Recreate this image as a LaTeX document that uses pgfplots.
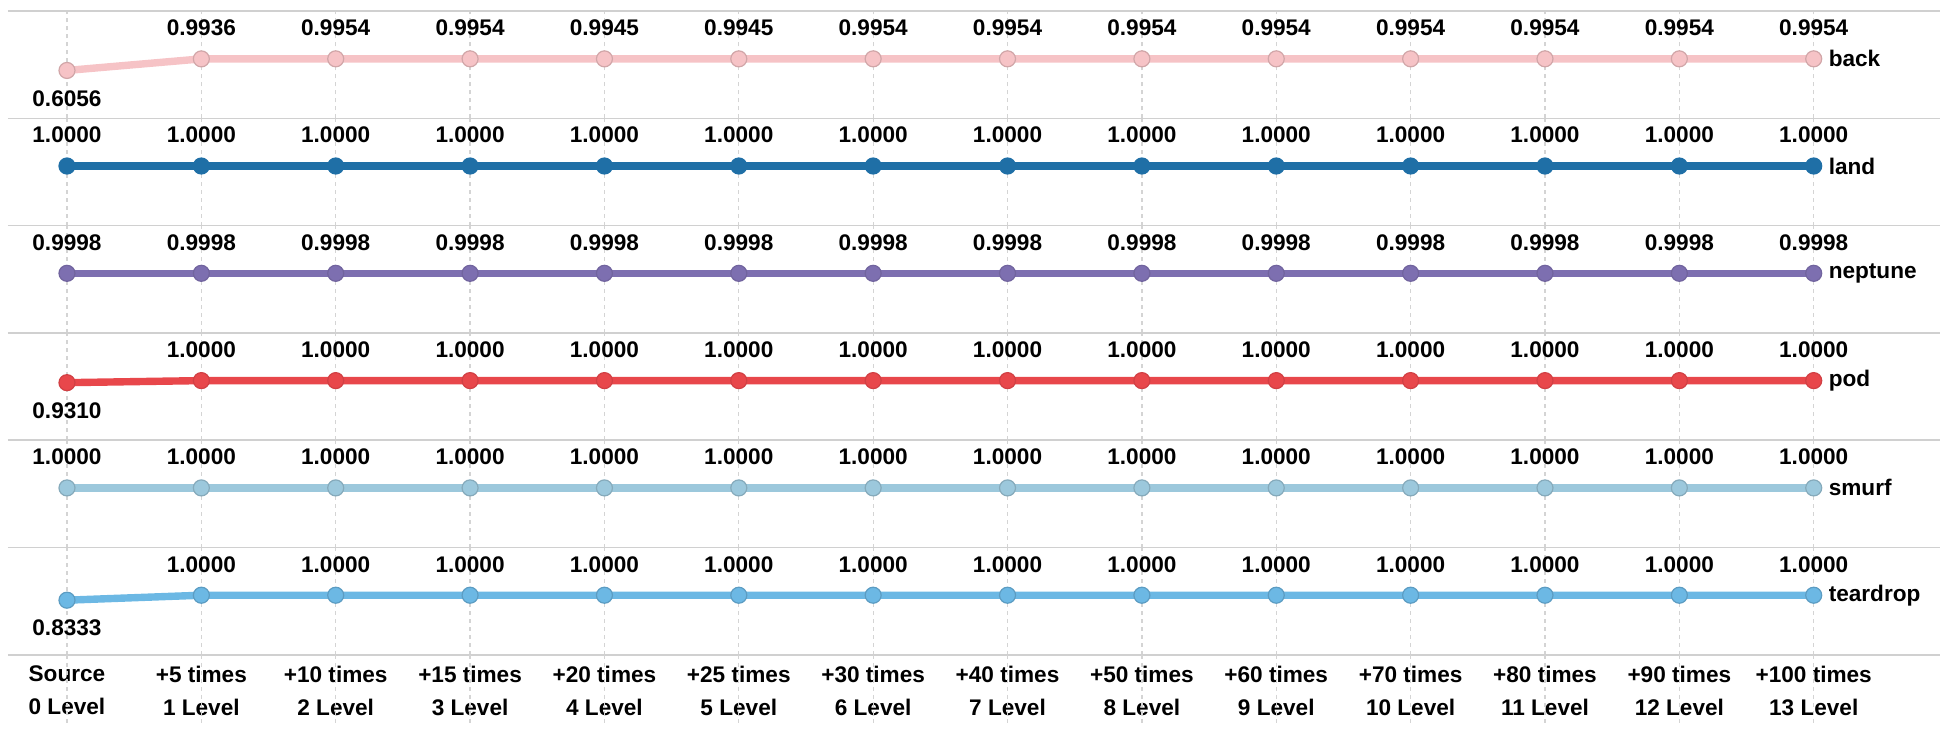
\documentclass[border=0pt]{standalone}
\usepackage{fontspec}
\setmainfont{Liberation Sans}
\usepackage{pgfplots}
\pgfplotsset{compat=1.18}
\usepgfplotslibrary{groupplots}
\definecolor{cback}{HTML}{F6C3C6}
\definecolor{cland}{HTML}{1F6FA6}
\definecolor{cnept}{HTML}{7D6FB0}
\definecolor{cpod}{HTML}{E8474B}
\definecolor{csmurf}{HTML}{9CC8DC}
\definecolor{ctear}{HTML}{6CB8E4}
\definecolor{gridc}{HTML}{D4D4D4}
\definecolor{sepc}{HTML}{D0D0D0}
\newcommand{\lblfont}{\bfseries\fontsize{11.3}{16.5}\selectfont}

\begin{document}
\begin{tikzpicture}
\begin{groupplot}[
  group style={group name=g,group size=1 by 6,vertical sep=0pt},
  scale only axis,width=966pt,height=53.65pt,
  xmin=-0.439,xmax=13.94,ymin=-1,ymax=2.6,
  axis line style={draw=none},ytick=\empty,
  xtick={0,...,13},xticklabels={},major tick length=0pt,
  xmajorgrids,grid style={gridc,line width=0.6pt,dash pattern=on 2pt off 2pt},
  clip=false,
  every axis plot/.append style={line width=3.7pt,mark=*,mark size=4pt},
  nodes near coords={\pgfmathprintnumber[fixed,fixed zerofill,precision=4,assume math mode=true]{\pgfplotspointmeta}},
  visualization depends on={value \thisrow{p}\as\lp},
  every node near coord/.append style={anchor=center,yshift=\lp*1pt,text=black,font=\lblfont},
  after end axis/.code={\draw[sepc,line width=0.8pt] (rel axis cs:0,1) -- (rel axis cs:1,1);},
]
% back
\nextgroupplot
\addplot[color=cback,mark options={fill=cback,draw=cback!85!black,line width=0.6pt}] table {
x y p
0 0.6056 -14
1 0.9936 15.5
2 0.9954 15.5
3 0.9954 15.5
4 0.9945 15.5
5 0.9945 15.5
6 0.9954 15.5
7 0.9954 15.5
8 0.9954 15.5
9 0.9954 15.5
10 0.9954 15.5
11 0.9954 15.5
12 0.9954 15.5
13 0.9954 15.5
};
\node[anchor=west,font=\lblfont,xshift=4pt] at (axis cs:13,0.9954) {back};
% land
\nextgroupplot
\addplot[color=cland,mark options={fill=cland,draw=cland,line width=0.6pt}] table {
x y p
0 1.0 15.5
1 1.0 15.5
2 1.0 15.5
3 1.0 15.5
4 1.0 15.5
5 1.0 15.5
6 1.0 15.5
7 1.0 15.5
8 1.0 15.5
9 1.0 15.5
10 1.0 15.5
11 1.0 15.5
12 1.0 15.5
13 1.0 15.5
};
\node[anchor=west,font=\lblfont,xshift=4pt] at (axis cs:13,1) {land};
% neptune
\nextgroupplot
\addplot[color=cnept,mark options={fill=cnept,draw=cnept!90!black,line width=0.6pt}] table {
x y p
0 0.9998 15.5
1 0.9998 15.5
2 0.9998 15.5
3 0.9998 15.5
4 0.9998 15.5
5 0.9998 15.5
6 0.9998 15.5
7 0.9998 15.5
8 0.9998 15.5
9 0.9998 15.5
10 0.9998 15.5
11 0.9998 15.5
12 0.9998 15.5
13 0.9998 15.5
};
\node[anchor=west,font=\lblfont,xshift=4pt] at (axis cs:13,0.9998) {neptune};
% pod
\nextgroupplot
\addplot[color=cpod,mark options={fill=cpod,draw=cpod!90!black,line width=0.6pt}] table {
x y p
0 0.9310 -14
1 1.0 15.5
2 1.0 15.5
3 1.0 15.5
4 1.0 15.5
5 1.0 15.5
6 1.0 15.5
7 1.0 15.5
8 1.0 15.5
9 1.0 15.5
10 1.0 15.5
11 1.0 15.5
12 1.0 15.5
13 1.0 15.5
};
\node[anchor=west,font=\lblfont,xshift=4pt] at (axis cs:13,1) {pod};
% smurf
\nextgroupplot
\addplot[color=csmurf,mark options={fill=csmurf,draw=csmurf!85!black,line width=0.6pt}] table {
x y p
0 1.0 15.5
1 1.0 15.5
2 1.0 15.5
3 1.0 15.5
4 1.0 15.5
5 1.0 15.5
6 1.0 15.5
7 1.0 15.5
8 1.0 15.5
9 1.0 15.5
10 1.0 15.5
11 1.0 15.5
12 1.0 15.5
13 1.0 15.5
};
\node[anchor=west,font=\lblfont,xshift=4pt] at (axis cs:13,1) {smurf};
% teardrop
\nextgroupplot[
  xticklabels={{Source\\0 Level},{+5 times\\1 Level},{+10 times\\2 Level},{+15 times\\3 Level},
    {+20 times\\4 Level},{+25 times\\5 Level},{+30 times\\6 Level},{+40 times\\7 Level},
    {+50 times\\8 Level},{+60 times\\9 Level},{+70 times\\10 Level},{+80 times\\11 Level},
    {+90 times\\12 Level},{+100 times\\13 Level}},
  xticklabel style={align=center,font=\lblfont,anchor=north,yshift=-2pt},
  after end axis/.append code={
    \draw[sepc,line width=0.8pt] (rel axis cs:0,0) -- (rel axis cs:1,0);
    \foreach \i in {0,...,13}{\draw[gridc,line width=0.6pt,dash pattern=on 2pt off 2pt] (axis cs:\i,-1) -- ++(0,-34pt);}
  }]
\addplot[color=ctear,mark options={fill=ctear,draw=ctear!85!black,line width=0.6pt}] table {
x y p
0 0.8333 -14
1 1.0 15.5
2 1.0 15.5
3 1.0 15.5
4 1.0 15.5
5 1.0 15.5
6 1.0 15.5
7 1.0 15.5
8 1.0 15.5
9 1.0 15.5
10 1.0 15.5
11 1.0 15.5
12 1.0 15.5
13 1.0 15.5
};
\node[anchor=west,font=\lblfont,xshift=4pt] at (axis cs:13,1) {teardrop};
\end{groupplot}
\pgfresetboundingbox
\path[use as bounding box] ([shift={(-4pt,5.5pt)}]g c1r1.north west) rectangle ([shift={(4pt,-43pt)}]g c1r6.south east);
\end{tikzpicture}
\end{document}
